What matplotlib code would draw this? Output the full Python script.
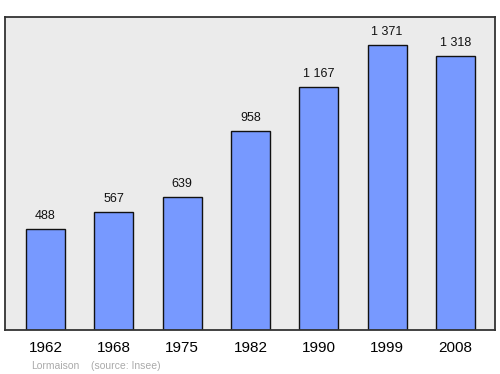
import matplotlib
matplotlib.use('Agg')
import matplotlib.pyplot as plt

plt.rcParams['font.family'] = ['Liberation Sans', 'DejaVu Sans']

years = ['1962', '1968', '1975', '1982', '1990', '1999', '2008']
population = [488, 567, 639, 958, 1167, 1371, 1318]
value_labels = ['488', '567', '639', '958', '1 167', '1 371', '1 318']

fig = plt.figure(figsize=(5, 3.74), dpi=100)
ax = fig.add_axes([0.01, 0.1176, 0.98, 0.837])
ax.set_facecolor('#ebebeb')

x = range(len(years))
ax.bar(x, population, width=0.57, color='#7799ff', edgecolor='#111111', linewidth=1)

for i, (v, lab) in enumerate(zip(population, value_labels)):
    ax.annotate(lab, (i, v), xytext=(0, 7.2), textcoords='offset points',
                ha='center', va='baseline', fontsize=9, color='#111111')

ax.set_xlim(-0.593, 6.578)
ax.set_ylim(0, 1505)
ax.set_xticks(list(x))
ax.set_xticklabels(years, fontsize=11)
ax.tick_params(axis='x', length=0, pad=8)
ax.set_yticks([])
for s in ax.spines.values():
    s.set_color('#333333')
    s.set_linewidth(1.3)

fig.text(31 / 500, 1 - 366 / 374, 'Lormaison', fontsize=7.5, color='#aaaaaa', va='center')
fig.text(91 / 500, 1 - 366 / 374, '(source: Insee)', fontsize=7.5, color='#aaaaaa', va='center')

fig.savefig('out.png', dpi=100)
